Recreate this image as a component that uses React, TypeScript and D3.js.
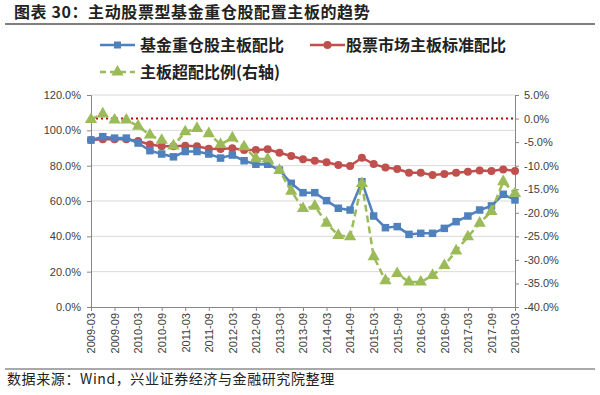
import React, { useEffect, useRef } from 'react';
import * as d3 from 'd3';

const quarters = [
  '2009-03', '2009-06', '2009-09', '2009-12', '2010-03', '2010-06', '2010-09', '2010-12',
  '2011-03', '2011-06', '2011-09', '2011-12', '2012-03', '2012-06', '2012-09', '2012-12',
  '2013-03', '2013-06', '2013-09', '2013-12', '2014-03', '2014-06', '2014-09', '2014-12',
  '2015-03', '2015-06', '2015-09', '2015-12', '2016-03', '2016-06', '2016-09', '2016-12',
  '2017-03', '2017-06', '2017-09', '2017-12', '2018-03',
];

// 基金重仓股主板配比 (left axis, %)
const fundMain = [
  94.5, 96.4, 95.6, 95.6, 92.8, 88.5, 86.6, 85.0, 88.0, 88.0, 86.6, 84.3, 86.0, 82.8, 80.8, 80.8,
  77.5, 70.0, 64.7, 64.7, 60.2, 55.9, 54.9, 70.9, 51.5, 44.9, 45.5, 41.1, 41.7, 41.7, 44.5, 48.3,
  51.5, 54.9, 57.2, 63.8, 60.6,
];

// 股票市场主板标准配比 (left axis, %)
const marketMain = [
  94.5, 95.0, 95.0, 95.0, 94.0, 92.0, 91.0, 91.0, 91.3, 91.0, 89.6, 89.4, 89.8, 88.9, 88.9, 89.3,
  87.3, 85.5, 83.6, 82.8, 81.9, 80.4, 79.8, 84.5, 80.9, 78.9, 78.1, 76.0, 76.0, 74.7, 75.3, 76.0,
  76.6, 77.2, 77.0, 77.9, 77.0,
];

// 主板超配比例 (right axis, %)
const overweight = [
  -0.2, 1.0, -0.3, -0.3, -1.6, -3.5, -4.6, -5.8, -2.8, -2.1, -3.2, -5.5, -4.1, -6.0, -8.5, -8.6,
  -11.0, -15.4, -19.1, -18.6, -22.2, -24.8, -25.1, -13.8, -29.3, -34.4, -32.9, -34.7, -34.7, -33.3,
  -31.2, -28.1, -25.1, -22.2, -19.7, -13.4, -15.9,
];

const leftTicks = [0, 20, 40, 60, 80, 100, 120];
const rightTicks = [5, 0, -5, -10, -15, -20, -25, -30, -35, -40];

const BLUE = '#4F81BD';
const RED = '#C0504D';
const GREEN = '#9BBB59';
const CJK = '"Noto Sans CJK SC", sans-serif';

const App: React.FC = () => {
  const svgRef = useRef<SVGSVGElement>(null);

  useEffect(() => {
    const svg = d3.select(svgRef.current);
    svg.selectAll('*').remove();

    const left = 91, right = 515, top = 95, bottom = 307;

    const x = d3.scalePoint<string>().domain(quarters).range([left, right]);
    const yL = d3.scaleLinear().domain([0, 120]).range([bottom, top]);
    const yR = d3.scaleLinear().domain([-40, 5]).range([bottom, top]);

    svg.append('rect').attr('width', 600).attr('height', 395).attr('fill', '#fff');

    // Title
    svg.append('text')
      .attr('x', 14).attr('y', 18)
      .attr('font-family', CJK).attr('font-size', 16).attr('font-weight', 'bold')
      .attr('letter-spacing', 0.6)
      .attr('fill', '#222')
      .text('图表 30：主动股票型基金重仓股配置主板的趋势');
    svg.append('line')
      .attr('x1', 5).attr('x2', 595).attr('y1', 24).attr('y2', 24)
      .attr('stroke', '#555').attr('stroke-width', 1.5);

    // Gridlines
    svg.append('g').selectAll('line')
      .data(leftTicks.filter(t => t > 0))
      .join('line')
      .attr('x1', left).attr('x2', right)
      .attr('y1', d => yL(d)).attr('y2', d => yL(d))
      .attr('stroke', '#D9D9D9').attr('stroke-width', 1);

    // Left axis
    const gl = svg.append('g').attr('transform', `translate(${left},0)`)
      .call(d3.axisLeft(yL).tickValues(leftTicks).tickSize(4).tickFormat(d => `${(+d).toFixed(1)}%`));
    gl.select('.domain').attr('stroke', '#868686');
    gl.selectAll('.tick line').attr('stroke', '#868686');
    gl.selectAll('.tick text').attr('font-family', 'Liberation Sans, Arial, sans-serif')
      .attr('font-size', 11).attr('fill', '#404040').attr('x', -10);

    // Right axis
    const gr = svg.append('g').attr('transform', `translate(${right},0)`)
      .call(d3.axisRight(yR).tickValues(rightTicks).tickSize(4).tickFormat(d => `${(+d).toFixed(1)}%`));
    gr.select('.domain').attr('stroke', '#868686');
    gr.selectAll('.tick line').attr('stroke', '#868686');
    gr.selectAll('.tick text').attr('font-family', 'Liberation Sans, Arial, sans-serif')
      .attr('font-size', 11).attr('fill', '#404040').attr('x', 9);

    // Bottom axis
    const labelQuarters = quarters.filter((_, i) => i % 2 === 0);
    const gb = svg.append('g').attr('transform', `translate(0,${bottom})`)
      .call(d3.axisBottom(x).tickValues(labelQuarters).tickSize(4).tickSizeOuter(0));
    gb.select('.domain').attr('stroke', '#868686');
    gb.selectAll('.tick line').attr('stroke', '#868686');
    gb.selectAll('.tick text')
      .attr('font-family', 'Liberation Sans, Arial, sans-serif')
      .attr('font-size', 11).attr('fill', '#404040')
      .attr('transform', 'rotate(-90)')
      .attr('x', -6).attr('y', 0).attr('dy', '0.35em')
      .attr('text-anchor', 'end');

    // Zero reference on right axis (dotted)
    svg.append('line')
      .attr('x1', left).attr('x2', right)
      .attr('y1', yR(0)).attr('y2', yR(0))
      .attr('stroke', '#C00000').attr('stroke-width', 2)
      .attr('stroke-dasharray', '2,3');

    const plot = svg.append('g');

    // Market main board ratio
    plot.append('path')
      .datum(marketMain)
      .attr('d', d3.line<number>().x((_, i) => x(quarters[i])!).y(d => yL(d)))
      .attr('fill', 'none').attr('stroke', RED).attr('stroke-width', 2.5);
    plot.append('g').selectAll('circle')
      .data(marketMain).join('circle')
      .attr('cx', (_, i) => x(quarters[i])!).attr('cy', d => yL(d))
      .attr('r', 4).attr('fill', RED);

    // Fund main board ratio
    plot.append('path')
      .datum(fundMain)
      .attr('d', d3.line<number>().x((_, i) => x(quarters[i])!).y(d => yL(d)))
      .attr('fill', 'none').attr('stroke', BLUE).attr('stroke-width', 2.5);
    plot.append('g').selectAll('rect')
      .data(fundMain).join('rect')
      .attr('x', (_, i) => x(quarters[i])! - 3.75).attr('y', d => yL(d) - 3.75)
      .attr('width', 7.5).attr('height', 7.5).attr('fill', BLUE);

    // Overweight (right axis)
    plot.append('path')
      .datum(overweight)
      .attr('d', d3.line<number>().x((_, i) => x(quarters[i])!).y(d => yR(d)))
      .attr('fill', 'none').attr('stroke', GREEN).attr('stroke-width', 2.5)
      .attr('stroke-dasharray', '7,4');
    const tri = d3.symbol().type(d3.symbolTriangle).size(65);
    plot.append('g').selectAll('path')
      .data(overweight).join('path')
      .attr('d', tri)
      .attr('transform', (d, i) => `translate(${x(quarters[i])},${yR(d)})`)
      .attr('fill', GREEN);

    // Legend
    const legend = svg.append('g').attr('font-family', CJK).attr('font-size', 16)
      .attr('font-weight', 'bold').attr('fill', '#222');
    const lx1 = 100, lx2 = 310;
    legend.append('line').attr('x1', lx1).attr('x2', lx1 + 35).attr('y1', 45).attr('y2', 45)
      .attr('stroke', BLUE).attr('stroke-width', 2.5);
    legend.append('rect').attr('x', lx1 + 14).attr('y', 41.5).attr('width', 7).attr('height', 7).attr('fill', BLUE);
    legend.append('text').attr('x', lx1 + 40).attr('y', 51).text('基金重仓股主板配比');

    legend.append('line').attr('x1', lx2).attr('x2', lx2 + 35).attr('y1', 45).attr('y2', 45)
      .attr('stroke', RED).attr('stroke-width', 2.5);
    legend.append('circle').attr('cx', lx2 + 17.5).attr('cy', 45).attr('r', 4).attr('fill', RED);
    legend.append('text').attr('x', lx2 + 36).attr('y', 51).text('股票市场主板标准配比');

    legend.append('line').attr('x1', lx1).attr('x2', lx1 + 35).attr('y1', 72).attr('y2', 72)
      .attr('stroke', GREEN).attr('stroke-width', 2.5).attr('stroke-dasharray', '6,4');
    legend.append('path').attr('d', tri).attr('transform', `translate(${lx1 + 17.5},72)`).attr('fill', GREEN);
    legend.append('text').attr('x', lx1 + 40).attr('y', 78).text('主板超配比例(右轴)');

    // Footer
    svg.append('line')
      .attr('x1', 5).attr('x2', 595).attr('y1', 369).attr('y2', 369)
      .attr('stroke', '#555').attr('stroke-width', 1.2);
    svg.append('text')
      .attr('x', 7).attr('y', 384)
      .attr('font-family', CJK).attr('font-size', 14).attr('letter-spacing', 0.6)
      .attr('fill', '#222')
      .text('数据来源：Wind，兴业证券经济与金融研究院整理');
  }, []);

  return (
    <svg
      ref={svgRef}
      width={600}
      height={395}
      style={{ position: 'absolute', left: 0, top: 0, display: 'block' }}
    />
  );
};

export default App;
